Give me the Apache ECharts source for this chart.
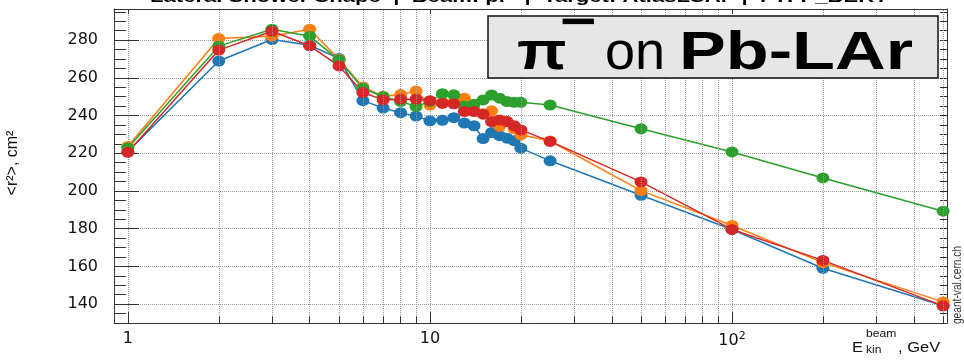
<!DOCTYPE html>
<html>
<head>
<meta charset="utf-8">
<script src="https://cdn.jsdelivr.net/npm/echarts@6/dist/echarts.min.js"></script>
<style>
  html, body { margin: 0; padding: 0; background: #fff; }
  #chart { width: 964px; height: 364px; }
</style>
</head>
<body>
<div id="chart"></div>
<script>
// beam kinetic energies, GeV
const energies = [1, 2, 3, 4, 5, 6, 7, 8, 9, 10, 11, 12, 13, 14, 15, 16, 17, 18, 19, 20, 25, 50, 100, 200, 500]

// <r^2>, cm^2 for each physics list
const blueVals   = [221.0, 268.9, 280.3, 277.3, 270.3, 247.9, 244.0, 241.5, 239.7, 237.2, 237.5, 238.9, 236.0, 234.6, 227.8, 231.0, 229.3, 228.0, 226.7, 222.7, 216.0, 197.7, 179.6, 159.0, 139.1]
const orangeVals = [223.6, 280.9, 282.1, 285.8, 269.8, 255.2, 250.2, 251.1, 253.0, 245.6, 247.0, 247.0, 249.2, 243.0, 241.0, 242.5, 234.3, 236.8, 233.0, 229.8, 226.5, 200.2, 181.7, 162.0, 141.2]
const greenVals  = [222.8, 276.8, 285.8, 282.1, 269.4, 254.5, 250.0, 247.5, 244.8, 247.5, 251.6, 251.0, 245.0, 246.0, 248.3, 250.9, 249.2, 247.4, 247.0, 247.0, 245.6, 233.0, 220.7, 206.9, 189.3]
const redVals    = [220.5, 274.7, 284.7, 277.0, 266.3, 252.2, 248.3, 248.7, 248.7, 247.9, 246.4, 246.2, 242.1, 242.1, 240.7, 236.8, 237.7, 236.8, 234.6, 232.4, 226.3, 204.8, 179.6, 163.2, 139.1]

// log-axis decoration
const minorEnergies = [2, 3, 4, 5, 6, 7, 8, 9, 20, 30, 40, 50, 60, 70, 80, 90, 200, 300, 400, 500]
const xTickLabels = { 1: '1', 10: '10', 100: '{b|10}{s|2}' }

const font = 'DejaVu Sans'
const axisColor = '#333'
const yMin = 130, yMax = 296.5

function physSeries(name, vals, color) {
    return {
        name: name,
        type: 'line',
        data: energies.map((e, i) => [e, vals[i]]),
        symbol: 'circle',
        symbolSize: [13, 11],
        lineStyle: { width: 1.5, color: color },
        itemStyle: { color: color },
        z: 3
    }
}

let option = {
    animation: false,
    grid: { left: 114, right: 17, top: 9, bottom: 41 },
    xAxis: [{
        type: 'log',
        logBase: 10,
        min: 0.9,
        max: 515,
        axisLine: { show: true, lineStyle: { color: axisColor } },
        axisTick: { show: true, inside: true, length: 11, lineStyle: { color: axisColor } },
        axisLabel: {
            showMinLabel: false,
            showMaxLabel: false,
            margin: 8,
            color: '#111',
            fontFamily: font,
            fontSize: 16,
            formatter: function (v) {
                if (Math.abs(v - Math.round(v)) > 1e-6) return ''
                return xTickLabels[Math.round(v)] || ''
            },
            rich: {
                b: { fontFamily: font, fontSize: 16, color: '#111' },
                s: { fontFamily: font, fontSize: 11, color: '#111', verticalAlign: 'top', padding: [0, 0, 8, 0] }
            }
        },
        splitLine: { show: true, lineStyle: { type: 'dotted', color: '#999' } }
    }, {
        type: 'log',
        logBase: 10,
        position: 'top',
        min: 0.9,
        max: 515,
        axisLine: { show: true, lineStyle: { color: axisColor } },
        axisTick: { show: true, inside: true, length: 5, lineStyle: { color: axisColor } },
        axisLabel: { show: false },
        splitLine: { show: false }
    }],
    yAxis: [{
        type: 'value',
        min: yMin,
        max: yMax,
        splitNumber: 8,
        axisLine: { show: true, lineStyle: { color: axisColor } },
        axisTick: { show: true, inside: true, length: 25, lineStyle: { color: axisColor } },
        axisLabel: {
            showMinLabel: false,
            showMaxLabel: false,
            margin: 16,
            color: '#111',
            fontFamily: font,
            fontSize: 16
        },
        splitLine: { show: true, lineStyle: { type: 'dotted', color: '#999' } }
    }, {
        // minor ticks, left
        type: 'value',
        min: yMin,
        max: yMax,
        interval: 5,
        position: 'left',
        axisLine: { show: false },
        axisTick: { show: true, inside: true, length: 12, lineStyle: { color: axisColor } },
        axisLabel: { show: false },
        splitLine: { show: false }
    }, {
        // ticks, right
        type: 'value',
        min: yMin,
        max: yMax,
        interval: 5,
        position: 'right',
        axisLine: { show: true, lineStyle: { color: axisColor } },
        axisTick: { show: true, inside: true, length: 7, lineStyle: { color: axisColor } },
        axisLabel: { show: false },
        splitLine: { show: false }
    }],
    series: [
        {
            // vertical grid lines at 2..9 x 10^n
            name: 'grid',
            type: 'line',
            data: [],
            silent: true,
            z: 1,
            markLine: {
                silent: true,
                symbol: ['none', 'none'],
                label: { show: false },
                lineStyle: { type: 'dotted', color: '#999', width: 1 },
                data: minorEnergies.map(e => ({ xAxis: e }))
            }
        },
        {
            // minor ticks on the bottom axis
            name: 'xminor',
            type: 'line',
            data: [],
            silent: true,
            z: 2,
            markLine: {
                silent: true,
                symbol: ['none', 'none'],
                label: { show: false },
                lineStyle: { type: 'solid', color: axisColor, width: 1 },
                data: minorEnergies.map(e => [{ coord: [e, yMin] }, { coord: [e, yMin + 3.5] }])
            }
        },
        physSeries('list1', blueVals, '#1f77b4'),
        physSeries('list2', orangeVals, '#ff7f0e'),
        physSeries('list3', greenVals, '#2ca02c'),
        physSeries('list4', redVals, '#d62728')
    ],
    graphic: [
        {
            type: 'text', x: 150, y: 6, scaleX: 1.3,
            style: {
                text: 'Lateral Shower Shape  |  Beam: pi-  |  Target: AtlasLSAr  |  FTFP_BERT',
                font: 'bold 17px "Liberation Sans"', fill: '#000', align: 'left', verticalAlign: 'bottom'
            }
        },
        {
            type: 'rect', shape: { x: 488, y: 16, width: 450, height: 62 },
            style: { fill: '#e6e6e6', stroke: '#111', lineWidth: 1.5 }, z: 10
        },
        {
            type: 'text', x: 517, y: 54, scaleX: 1.2, z: 11,
            style: { text: 'π', font: 'bold 54px "Liberation Sans"', fill: '#000', verticalAlign: 'middle' }
        },
        {
            type: 'text', x: 560, y: 24, scaleX: 1.25, z: 11,
            style: { text: '−', font: 'bold 50px "Liberation Sans"', fill: '#000', verticalAlign: 'middle' }
        },
        {
            type: 'text', x: 605, y: 54, scaleX: 1.0, z: 11,
            style: { text: 'on', font: '54px "Liberation Sans"', fill: '#000', verticalAlign: 'middle' }
        },
        {
            type: 'text', x: 679, y: 54, scaleX: 1.3, z: 11,
            style: { text: 'Pb-LAr', font: 'bold 54px "Liberation Sans"', fill: '#000', verticalAlign: 'middle' }
        },
        {
            // y axis title
            type: 'text', x: 13, y: 163, rotation: Math.PI / 2,
            style: {
                text: '<r²>, cm²',
                font: '16px "Liberation Sans"', fill: '#111', align: 'center', verticalAlign: 'middle'
            }
        },
        {
            // x axis title
            type: 'text', x: 852, y: 348, scaleX: 1.1,
            style: { text: 'E', font: '15px "Liberation Sans"', fill: '#111', verticalAlign: 'middle' }
        },
        {
            type: 'text', x: 866, y: 334, scaleX: 1.1,
            style: { text: 'beam', font: '11px "Liberation Sans"', fill: '#111', verticalAlign: 'middle' }
        },
        {
            type: 'text', x: 866, y: 350, scaleX: 1.1,
            style: { text: 'kin', font: '11px "Liberation Sans"', fill: '#111', verticalAlign: 'middle' }
        },
        {
            type: 'text', x: 898, y: 348, scaleX: 1.1,
            style: { text: ', GeV', font: '15px "Liberation Sans"', fill: '#111', verticalAlign: 'middle' }
        },
        {
            type: 'text', x: 958, y: 285, rotation: Math.PI / 2, scaleX: 0.85,
            style: { text: 'geant-val.cern.ch', font: '12px "Liberation Sans"', fill: '#333', align: 'center', verticalAlign: 'middle' }
        }
    ]
}

var myChart = echarts.init(document.getElementById('chart'))
myChart.setOption(option)
</script>
</body>
</html>
